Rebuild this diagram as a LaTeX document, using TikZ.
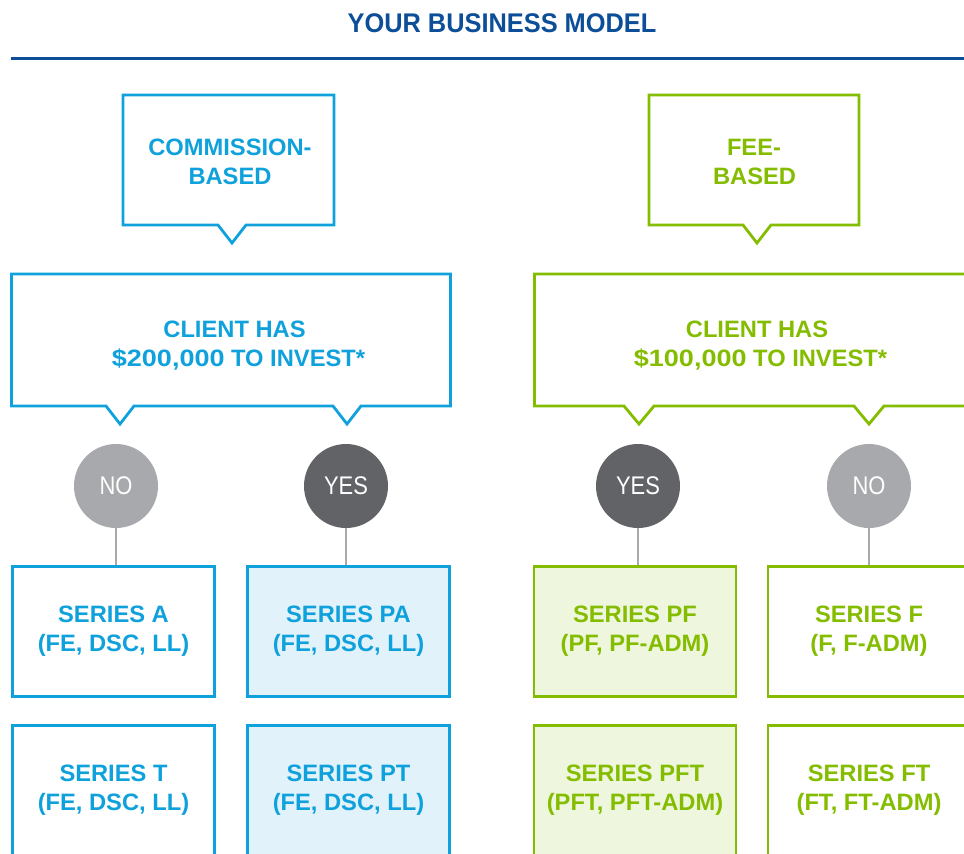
\documentclass[tikz,border=0pt]{standalone}
\usepackage{fontspec}
\setmainfont{Liberation Sans}
\usepackage{graphicx}

\definecolor{titleblue}{HTML}{0C4E98}
\definecolor{cblue}{HTML}{0FA1DC}
\definecolor{cgreen}{HTML}{84BD00}
\definecolor{lblue}{HTML}{E1F2FA}
\definecolor{lgreen}{HTML}{EEF6DD}
\definecolor{nogray}{HTML}{A7A9AC}
\definecolor{yesgray}{HTML}{626366}

\tikzset{
  callout/.style={line width=2.8pt, line join=miter, miter limit=10},
  lbl/.style={font=\bfseries\fontsize{23.7}{29}\selectfont, inner sep=0pt, anchor=base},
  sbox/.style={draw, line width=2.8pt, minimum width=202pt, minimum height=130pt,
    inner sep=0pt, align=center, font=\bfseries\fontsize{23.7}{29}\selectfont},
  answer/.style={circle, minimum size=84pt, inner sep=0pt, text=white,
    font=\fontsize{25.5}{30}\selectfont},
  stem/.style={draw=nogray, line width=2.6pt},
}

\newcommand{\wnum}[1]{\scalebox{1.14}[1]{#1}}

\begin{document}
\begin{tikzpicture}[x=1pt, y=-1pt]
\useasboundingbox (0,0) rectangle (964,854);
\clip (0,0) rectangle (964,854);

% heading and rule
\node[font=\bfseries\fontsize{27}{30}\selectfont, text=titleblue, anchor=base, inner sep=0pt]
  (title) at (502,32.5) {\scalebox{0.94}[1]{YOUR BUSINESS MODEL}};
\draw[titleblue, line width=3pt] (11,58) -- (964,58);

% business model callouts
\draw[callout, cblue] (123,95) -- (334,95) -- (334,225) -- (246,225) -- (232,243)
  -- (218,225) -- (123,225) -- cycle;
\node[lbl, text=cblue] (comm1) at (230,155) {COMMISSION-};
\node[lbl, text=cblue] (comm2) at (230,184) {BASED};

\draw[callout, cgreen] (649,95) -- (859,95) -- (859,225) -- (771,225) -- (757,243)
  -- (743,225) -- (649,225) -- cycle;
\node[lbl, text=cgreen] (fee1) at (754,155) {FEE-};
\node[lbl, text=cgreen] (fee2) at (754.5,184) {BASED};

% investment threshold callouts
\draw[callout, cblue] (11.5,274) -- (450.5,274) -- (450.5,406) -- (361,406) -- (347,424)
  -- (333,406) -- (134,406) -- (120,424) -- (106,406) -- (11.5,406) -- cycle;
\node[lbl, text=cblue] (cl1a) at (234.5,337) {CLIENT HAS};
\node[lbl, text=cblue] (cl1b) at (238.5,366) {\wnum{\$200,000} TO INVEST*};

\draw[callout, cgreen] (534.5,274) -- (976,274) -- (976,406) -- (884,406) -- (869,424)
  -- (854,406) -- (654,406) -- (639,424) -- (624,406) -- (534.5,406) -- cycle;
\node[lbl, text=cgreen] (cl2a) at (757,337) {CLIENT HAS};
\node[lbl, text=cgreen] (cl2b) at (760.5,366) {\wnum{\$100,000} TO INVEST*};

% answers
\node[answer, fill=nogray]  (noA)  at (116,486) {\scalebox{0.86}[1]{NO}};
\node[answer, fill=yesgray] (yesA) at (346,486) {\scalebox{0.86}[1]{YES}};
\node[answer, fill=yesgray] (yesB) at (638,486) {\scalebox{0.86}[1]{YES}};
\node[answer, fill=nogray]  (noB)  at (869,486) {\scalebox{0.86}[1]{NO}};

% series boxes
\node[sbox, draw=cblue, fill=white, text=cblue] (sA)  at (113.5,631.5) {SERIES A\\(FE, DSC, LL)};
\node[sbox, draw=cblue, fill=lblue, text=cblue] (sPA) at (348.5,631.5) {SERIES PA\\(FE, DSC, LL)};
\node[sbox, draw=cgreen, fill=lgreen, text=cgreen] (sPF) at (635,631.5) {SERIES PF\\(PF, PF-ADM)};
\node[sbox, draw=cgreen, fill=white, text=cgreen] (sF)  at (869,631.5) {SERIES F\\(F, F-ADM)};

\node[sbox, draw=cblue, fill=white, text=cblue] (sT)  at (113.5,790.5) {SERIES T\\(FE, DSC, LL)};
\node[sbox, draw=cblue, fill=lblue, text=cblue] (sPT) at (348.5,790.5) {SERIES PT\\(FE, DSC, LL)};
\node[sbox, draw=cgreen, fill=lgreen, text=cgreen] (sPFT) at (635,790.5) {SERIES PFT\\(PFT, PFT-ADM)};
\node[sbox, draw=cgreen, fill=white, text=cgreen] (sFT) at (869,790.5) {SERIES FT\\(FT, FT-ADM)};

% stems
\draw[stem] (noA.south) -- (noA.south |- sA.north);
\draw[stem] (yesA.south) -- (yesA.south |- sPA.north);
\draw[stem] (yesB.south) -- (yesB.south |- sPF.north);
\draw[stem] (noB.south) -- (noB.south |- sF.north);
\end{tikzpicture}
\end{document}
